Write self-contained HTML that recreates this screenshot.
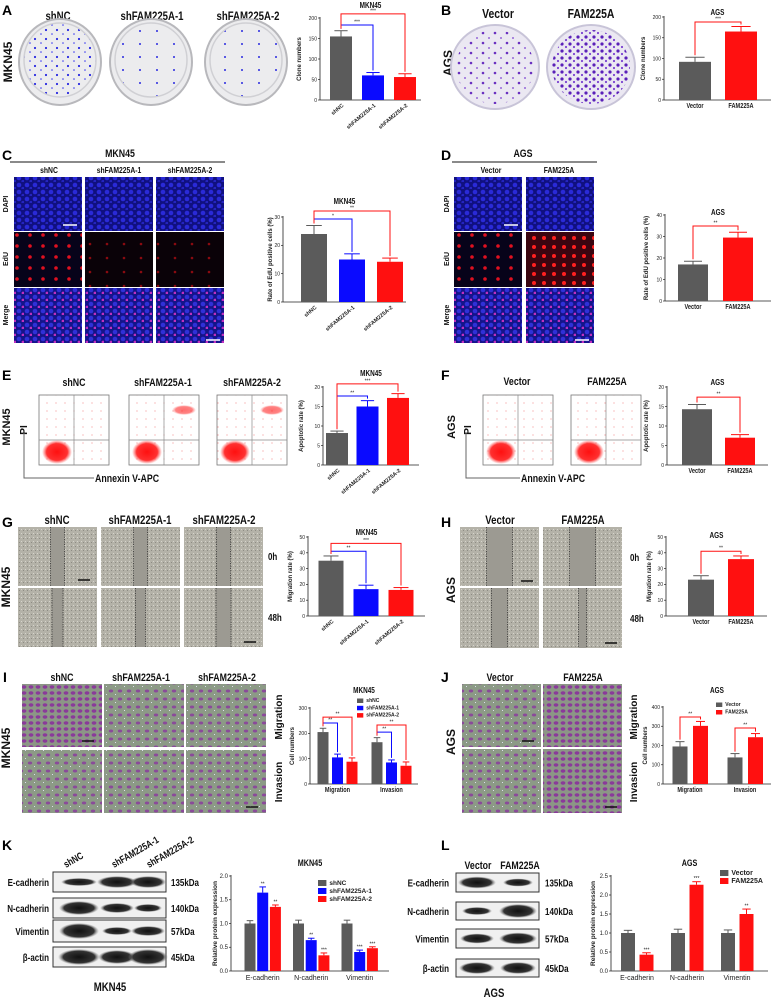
<!DOCTYPE html>
<html><head><meta charset="utf-8"><style>
html,body{margin:0;padding:0;background:#fff;}
svg{display:block;font-family:"Liberation Sans",sans-serif;}
.nar{font-family:"Liberation Sans Narrow","Liberation Sans",sans-serif;font-weight:bold;}
.lt{font-weight:bold;font-size:14px;}
</style></head><body>
<svg id="fig" width="773" height="998" viewBox="0 0 773 998" xmlns="http://www.w3.org/2000/svg">
<defs>
<pattern id="pDish" width="11" height="9" patternUnits="userSpaceOnUse"><circle cx="2" cy="3" r="1.1" fill="#2a2ae0"/><circle cx="8" cy="7" r="0.8" fill="#3a3af0"/></pattern>
<pattern id="pDishL" width="17" height="13" patternUnits="userSpaceOnUse"><circle cx="4" cy="5" r="1" fill="#2a2ae0"/></pattern>
<pattern id="pDishP" width="12" height="10" patternUnits="userSpaceOnUse"><circle cx="3" cy="3" r="1.3" fill="#6a30c0"/><circle cx="9" cy="8" r="0.9" fill="#7a40d0"/></pattern>
<pattern id="pDishP2" width="8" height="7" patternUnits="userSpaceOnUse"><circle cx="2" cy="2" r="1.6" fill="#5a20b8"/><circle cx="6" cy="5" r="1.1" fill="#7a40d0"/></pattern>
<pattern id="pDapi" width="8" height="7" patternUnits="userSpaceOnUse"><rect width="8" height="7" fill="#101080"/><circle cx="3" cy="3" r="2.3" fill="#2a2ad8"/><circle cx="7" cy="6.5" r="1.6" fill="#2525c0"/></pattern>
<pattern id="pEdu" width="13" height="11" patternUnits="userSpaceOnUse"><rect width="13" height="11" fill="#07031a"/><circle cx="4" cy="4" r="1.8" fill="#e01020"/></pattern>
<pattern id="pEduLo" width="17" height="14" patternUnits="userSpaceOnUse"><rect width="17" height="14" fill="#0a0208"/><circle cx="5" cy="6" r="1.3" fill="#8a0a10"/></pattern>
<pattern id="pEduHi" width="10" height="9" patternUnits="userSpaceOnUse"><rect width="10" height="9" fill="#3a0510"/><circle cx="4" cy="4" r="2" fill="#ff2020"/></pattern>
<pattern id="pMerge" width="8" height="7" patternUnits="userSpaceOnUse"><rect width="8" height="7" fill="#14148a"/><circle cx="3" cy="3" r="2.3" fill="#3030d8"/><circle cx="7" cy="6" r="1.4" fill="#c030c0"/></pattern>
<pattern id="pScratch" width="4" height="4" patternUnits="userSpaceOnUse"><rect width="4" height="4" fill="#b4b2a8"/><rect x="1" y="1" width="1" height="1" fill="#d6d4cc"/><rect x="3" y="2" width="1" height="1" fill="#8e8c84"/></pattern>
<pattern id="pTrans" width="9" height="8" patternUnits="userSpaceOnUse"><rect width="9" height="8" fill="#8c9a86"/><ellipse cx="3" cy="3" rx="2.2" ry="1.5" fill="#8a4a9a"/><rect x="7" y="6" width="1" height="1" fill="#dde"/></pattern>
<pattern id="pTransD" width="7" height="6" patternUnits="userSpaceOnUse"><rect width="7" height="6" fill="#8c9686"/><ellipse cx="3" cy="3" rx="2.4" ry="1.7" fill="#8a3a9a"/></pattern>
<pattern id="pFlow" width="9" height="8" patternUnits="userSpaceOnUse"><circle cx="2" cy="3" r="0.5" fill="#f06060"/></pattern>
<radialGradient id="gBlob"><stop offset="0" stop-color="#ff1010"/><stop offset="0.7" stop-color="#ff3030"/><stop offset="1" stop-color="#ff6060" stop-opacity="0"/></radialGradient>
<radialGradient id="gBand"><stop offset="0" stop-color="#111"/><stop offset="0.75" stop-color="#333"/><stop offset="1" stop-color="#888" stop-opacity="0"/></radialGradient>
</defs>

<text class="lt" x="2" y="15">A</text>
<text class="lt" x="441" y="15">B</text>
<text class="lt" x="2" y="160">C</text>
<text class="lt" x="441" y="160">D</text>
<text class="lt" x="2" y="380">E</text>
<text class="lt" x="441" y="380">F</text>
<text class="lt" x="2" y="527">G</text>
<text class="lt" x="441" y="527">H</text>
<text class="lt" x="3" y="682">I</text>
<text class="lt" x="441" y="682">J</text>
<text class="lt" x="2" y="850">K</text>
<text class="lt" x="441" y="850">L</text>

<g id="imgs"></g>
<g id="charts"></g>
</svg>
<script>
const aCats=['shNC','shFAM225A-1','shFAM225A-2'];
const aVals=[155,60,56];
const aErrs=[14,7,8];
const aTicks=[0,50,100,150,200];
const bCats=['Vector','FAM225A'];
const bVals=[92,165];
const bErrs=[11,12];
const bTicks=[0,50,100,150,200];
const cVals=[24,15,14.2];
const cErrs=[3,2,1.3];
const cTicks=[0,10,20,30];
const dVals=[17,29.5];
const dErrs=[1.5,2.5];
const dTicks=[0,10,20,30,40];
const eVals=[8.2,15,17.2];
const eErrs=[0.5,1.5,1.1];
const eTicks=[0,5,10,15,20];
const fVals=[14.3,7];
const fErrs=[1.2,0.8];
const fTicks=[0,5,10,15,20];
const gVals=[35,17,16.5];
const gErrs=[3,2.5,1.5];
const gTicks=[0,10,20,30,40,50];
const hVals=[23,36];
const hErrs=[2.5,2];
const hTicks=[0,10,20,30,40,50];
const iGroups=['Migration','Invasion'];
const iShNC=[205,165];
const iSh1=[105,85];
const iSh2=[88,72];
const iErrNC=[15,18];
const iErr1=[13,10];
const iErr2=[15,15];
const iTicks=[0,100,200,300];
const jVector=[195,138];
const jFam=[302,243];
const jErrV=[25,20];
const jErrF=[23,19];
const jTicks=[0,100,200,300,400];
const kGroups=['E-cadherin','N-cadherin','Vimentin'];
const kShNC=[1,1,1];
const kSh1=[1.65,0.65,0.4];
const kSh2=[1.35,0.33,0.48];
const kErrNC=[0.06,0.07,0.07];
const kErr1=[0.12,0.04,0.04];
const kErr2=[0.04,0.05,0.03];
const kStars1=['**','**','***'];
const kStars2=['**','***','***'];
const kTicks=['0.0','0.5','1.0','1.5','2.0'];
const lVector=[1,1,1];
const lFam=[0.43,2.27,1.5];
const lErrV=[0.07,0.1,0.08];
const lErrF=[0.05,0.08,0.13];
const lStars=['***','***','**'];
const lTicks=['0.0','0.5','1.0','1.5','2.0','2.5'];

const NS='http://www.w3.org/2000/svg';
const GRAY='#5b5b5b',BLUE='#0a0aff',RED='#ff1010';
const charts=document.getElementById('charts');
const imgs=document.getElementById('imgs');

function mk(tag,attrs,parent,name){
  const el=document.createElementNS(NS,tag);
  for(const k in attrs) el.setAttribute(k,attrs[k]);
  
  
  (parent||charts).appendChild(el);
  return el;
}
function txt(x,y,s,size,parent,name,extra){
  const t=mk('text',Object.assign({x:x,y:y,'font-size':size},extra||{}),parent,name);
  t.textContent=s;
  return t;
}

function chart(cfg,groups,series,errs,colorFn,brackets,stars){
  const g=mk('g',{},charts,cfg.name);
  const ys=v=>cfg.yb-v/cfg.max*(cfg.yb-cfg.yt);
  const xs=(gi,si)=>cfg.gs+gi*cfg.gg+si*cfg.sg;
  mk('line',{x1:cfg.ax,y1:cfg.yt-1,x2:cfg.ax,y2:cfg.yb,stroke:'#222','stroke-width':0.8},g,'y-axis');
  mk('line',{x1:cfg.ax,y1:cfg.yb,x2:cfg.ax2,y2:cfg.yb,stroke:'#222','stroke-width':0.8},g,'x-axis');
  cfg.ticks.forEach(t=>{
    const v=parseFloat(t);
    const y=ys(v);
    mk('line',{x1:cfg.ax-2,y1:y,x2:cfg.ax,y2:y,stroke:'#222','stroke-width':0.7},g,'y-tick');
    txt(cfg.ax-3,y+1.8,String(t),cfg.tf||5,g,'y-tick-label',{'text-anchor':'end',fill:'#222'});
  });
  txt((cfg.ax+cfg.ax2)/2,cfg.ty,cfg.title,cfg.tfs||8,g,'chart-title',{'text-anchor':'middle','font-weight':'bold',fill:'#111',class:'nar'});
  txt(0,0,cfg.ylab,cfg.yfs||6,g,'y-axis-title',{'text-anchor':'middle',transform:'translate('+cfg.ylx+','+((cfg.yt+cfg.yb)/2)+') rotate(-90)','font-weight':'bold',fill:'#222'});
  series.forEach((ser,si)=>{
    ser.forEach((v,gi)=>{
      const cx=xs(gi,si),col=colorFn(gi,si),e=errs[si][gi];
      mk('line',{x1:cx,y1:ys(v),x2:cx,y2:ys(v+e),stroke:col,'stroke-width':1},g,'error-bar');
      mk('line',{x1:cx-cfg.bw*0.3,y1:ys(v+e),x2:cx+cfg.bw*0.3,y2:ys(v+e),stroke:col,'stroke-width':1},g,'error-cap');
      mk('rect',{x:cx-cfg.bw/2,y:ys(v),width:cfg.bw,height:cfg.yb-ys(v),fill:col},g,'bar-'+String(gi)+'-'+String(si));
      if(stars&&stars[si]&&stars[si][gi]) txt(cx,ys(v+e)-1.5,stars[si][gi],5,g,'significance-star',{'text-anchor':'middle',fill:'#222'});
    });
  });
  (brackets||[]).forEach(b=>{
    const x1=xs(b[0],b[1]),x2=xs(b[2],b[3]),y=ys(b[4]);
    const y1=ys(series[b[1]][b[0]]+errs[b[1]][b[0]])-2,y2=ys(series[b[3]][b[2]]+errs[b[3]][b[2]])-2;
    mk('polyline',{points:x1+','+y1+' '+x1+','+y+' '+x2+','+y+' '+x2+','+y2,fill:'none',stroke:b[6],'stroke-width':1},g,'significance-bracket');
    txt((x1+x2)/2,y-1.5,b[5],5,g,'significance-label',{'text-anchor':'middle',fill:'#222'});
  });
  groups.forEach((lab,gi)=>{
    const cx=cfg.xlc!=null? xs(gi,0)+cfg.xlc : xs(gi,0);
    if(cfg.rot){
      txt(0,0,lab,cfg.xfs||5.5,g,'x-tick-label',{'text-anchor':'end',transform:'translate('+(cx+3)+','+(cfg.yb+6)+') rotate(-40)','font-weight':'bold',fill:'#222'});
    } else {
      txt(cx,cfg.yb+(cfg.xdy||8),lab,cfg.xfs||6,g,'x-tick-label',{'text-anchor':'middle',fill:'#222',class:cfg.xnar?'nar':''});
    }
  });
  if(cfg.legend){
    cfg.legend.forEach((lab,i)=>{
      const y=cfg.ly+i*cfg.lgap;
      mk('rect',{x:cfg.lx,y:y-cfg.ls+1,width:cfg.ls*1.4,height:cfg.ls,fill:cfg.lcol[i]},g,'legend-swatch');
      txt(cfg.lx+cfg.ls*1.4+3,y,lab,cfg.lfs,g,'legend-entry',{fill:'#222','font-weight':'bold'});
    });
  }
  return g;
}
const tri=gi=>[GRAY,BLUE,RED][gi];
const duo=gi=>[GRAY,RED][gi];

chart({name:'chart-a',ax:320,ax2:421,yt:18,yb:100,max:200,ticks:aTicks,gs:341,gg:32,sg:0,bw:22,title:'MKN45',ty:8,ylab:'Clone numbers',ylx:301,rot:true},
  aCats,[aVals],[aErrs],(gi)=>tri(gi),[[0,0,1,0,183,'***',BLUE],[0,0,2,0,210,'***',RED]]);
chart({name:'chart-b',ax:664,ax2:771,yt:17,yb:100,max:200,ticks:bTicks,gs:695,gg:46,sg:0,bw:32,title:'AGS',ty:15,ylab:'Clone numbers',ylx:645,xnar:true,xfs:7},
  bCats,[bVals],[bErrs],(gi)=>duo(gi),[[0,0,1,0,188,'***',RED]]);
chart({name:'chart-c',ax:283,ax2:406,yt:217,yb:302,max:30,ticks:cTicks,gs:314,gg:38,sg:0,bw:26,title:'MKN45',ty:204,ylab:'Rate of EdU positive cells (%)',ylx:272,rot:true},
  aCats,[cVals],[cErrs],(gi)=>tri(gi),[[0,0,1,0,29.3,'*',BLUE],[0,0,2,0,32.1,'**',RED]]);
chart({name:'chart-d',ax:665,ax2:771,yt:215,yb:301,max:40,ticks:dTicks,gs:693,gg:45,sg:0,bw:30,title:'AGS',ty:215,ylab:'Rate of EdU positive cells (%)',ylx:648,xnar:true,xfs:7},
  bCats,[dVals],[dErrs],(gi)=>duo(gi),[[0,0,1,0,34.9,'**',RED]]);
chart({name:'chart-e',ax:323,ax2:419,yt:387,yb:465,max:20,ticks:eTicks,gs:337,gg:30.5,sg:0,bw:22,title:'MKN45',ty:376,ylab:'Apoptotic rate (%)',ylx:303,rot:true},
  aCats,[eVals],[eErrs],(gi)=>tri(gi),[[0,0,1,0,17.7,'**',BLUE],[0,0,2,0,20.8,'***',RED]]);
chart({name:'chart-f',ax:667,ax2:768,yt:387,yb:465,max:20,ticks:fTicks,gs:697,gg:43,sg:0,bw:30,title:'AGS',ty:385,ylab:'Apoptotic rate (%)',ylx:648,xnar:true,xfs:7},
  bCats,[fVals],[fErrs],(gi)=>duo(gi),[[0,0,1,0,17.4,'**',RED]]);
chart({name:'chart-g',ax:308,ax2:425,yt:537,yb:616,max:50,ticks:gTicks,gs:331,gg:35,sg:0,bw:25,title:'MKN45',ty:535,ylab:'Migration rate (%)',ylx:292,rot:true},
  aCats,[gVals],[gErrs],(gi)=>tri(gi),[[0,0,1,0,41,'**',BLUE],[0,0,2,0,46,'***',RED]]);
chart({name:'chart-h',ax:666,ax2:767,yt:537,yb:616,max:50,ticks:hTicks,gs:701,gg:40,sg:0,bw:26,title:'AGS',ty:538,ylab:'Migration rate (%)',ylx:651,xnar:true,xfs:7},
  bCats,[hVals],[hErrs],(gi)=>duo(gi),[[0,0,1,0,41,'**',RED]]);
chart({name:'chart-i',ax:310,ax2:418,yt:708,yb:784,max:300,ticks:iTicks,gs:323,gg:54,sg:14.5,bw:11,title:'MKN45',ty:693,ylab:'Cell numbers',ylx:294,xlc:14.5,xnar:true,xfs:7,
  legend:['shNC','shFAM225A-1','shFAM225A-2'],lcol:[GRAY,BLUE,RED],lx:357,ly:702,lgap:7.3,ls:4.5,lfs:5},
  iGroups,[iShNC,iSh1,iSh2],[iErrNC,iErr1,iErr2],(gi,si)=>tri(si),
  [[0,0,0,1,241,'**',BLUE],[0,0,0,2,264,'**',RED],[1,0,1,1,205,'**',BLUE],[1,0,1,2,233,'**',RED]]);
chart({name:'chart-j',ax:663,ax2:771,yt:707,yb:784,max:400,ticks:jTicks,gs:680,gg:55,sg:20.5,bw:15,title:'AGS',ty:693,ylab:'Cell numbers',ylx:647,xlc:10,xnar:true,xfs:7,
  legend:['Vector','FAM225A'],lcol:[GRAY,RED],lx:716,ly:706,lgap:7.5,ls:4.5,lfs:5},
  iGroups,[jVector,jFam],[jErrV,jErrF],(gi,si)=>duo(si),
  [[0,0,0,1,348,'**',RED],[1,0,1,1,291,'**',RED]]);
chart({name:'chart-k',ax:231,ax2:389,yt:876,yb:971,max:2,ticks:kTicks,gs:250,gg:48.5,sg:12.7,bw:11,title:'MKN45',ty:866,ylab:'Relative protein expression',ylx:217,xlc:12.7,xfs:7,xdy:9,tf:6,tfs:9,yfs:6.5,
  legend:['shNC','shFAM225A-1','shFAM225A-2'],lcol:[GRAY,BLUE,RED],lx:318,ly:885,lgap:8,ls:6,lfs:6.5},
  kGroups,[kShNC,kSh1,kSh2],[kErrNC,kErr1,kErr2],(gi,si)=>tri(si),[],[null,kStars1,kStars2]);
chart({name:'chart-l',ax:611,ax2:768,yt:876,yb:971,max:2.5,ticks:lTicks,gs:628,gg:50,sg:18.5,bw:14,title:'AGS',ty:866,ylab:'Relative protein expression',ylx:595,xlc:9,xfs:7,xdy:9,tf:6,tfs:9,yfs:6.5,
  legend:['Vector','FAM225A'],lcol:[GRAY,RED],lx:720,ly:875,lgap:8,ls:6,lfs:7},
  kGroups,[lVector,lFam],[lErrV,lErrF],(gi,si)=>duo(si),[],[null,lStars]);

function title(x,y,s,size,name){ return txt(x,y,s,size,imgs,name,{'text-anchor':'middle',class:'nar',fill:'#111'}); }
function vlabel(x,y,s,size,name,narrow){ return txt(0,0,s,size,imgs,name,{'text-anchor':'middle',transform:'translate('+x+','+y+') rotate(-90)','font-weight':'bold',fill:'#111',class:narrow?'nar':''}); }
function box(x,y,w,h,fill,name){ return mk('rect',{x:x,y:y,width:w,height:h,fill:fill},imgs,name); }

title(58,20,'shNC',12,'col-title-shnc'); title(152,20,'shFAM225A-1',12,'col-title-sh1'); title(248,20,'shFAM225A-2',12,'col-title-sh2');
vlabel(12,62,'MKN45',12,'row-label-mkn45');
[[60,'pDish'],[151,'pDishL'],[246,'pDishL']].forEach(d=>{
  mk('ellipse',{cx:d[0],cy:62,rx:41,ry:43,fill:'#ececee',stroke:'#b8b8bc','stroke-width':2},imgs,'culture-dish');
  mk('ellipse',{cx:d[0],cy:60,rx:36,ry:37,fill:'url(#'+d[1]+')',stroke:'#d0d0d4','stroke-width':1.5},imgs,'colonies');
});
title(498,18,'Vector',13,'col-title-vector'); title(591,18,'FAM225A',13,'col-title-fam225a');
vlabel(452,63,'AGS',12,'row-label-ags');
[[495,'pDishP'],[591,'pDishP2']].forEach(d=>{
  mk('ellipse',{cx:d[0],cy:67,rx:44,ry:42,fill:'#ebe8f2',stroke:'#c8c4d8','stroke-width':2},imgs,'culture-dish');
  mk('ellipse',{cx:d[0],cy:67,rx:39,ry:37,fill:'url(#'+d[1]+')'},imgs,'colonies');
});

title(120,157,'MKN45',11,'header-mkn45');
mk('line',{x1:10,y1:162,x2:225,y2:162,stroke:'#444','stroke-width':1.2},imgs,'header-rule');
title(49,173,'shNC',8.5,'col-title'); title(119,173,'shFAM225A-1',8.5,'col-title'); title(190,173,'shFAM225A-2',8.5,'col-title');
title(523,157,'AGS',11,'header-ags');
mk('line',{x1:452,y1:162,x2:597,y2:162,stroke:'#444','stroke-width':1.2},imgs,'header-rule');
title(491,173,'Vector',8.5,'col-title'); title(559,173,'FAM225A',8.5,'col-title');
const rowsY=[177,232,288];
['DAPI','EdU','Merge'].forEach((r,i)=>{ vlabel(8,rowsY[i]+27,r,7,'row-label-'+r.toLowerCase()); vlabel(449,rowsY[i]+27,r,7,'row-label-'+r.toLowerCase()); });
[[14,'pDapi','pEdu','pMerge'],[85,'pDapi','pEduLo','pMerge'],[156,'pDapi','pEduLo','pMerge'],[454,'pDapi','pEdu','pMerge'],[526,'pDapi','pEduHi','pMerge']].forEach(c=>{
  box(c[0],177,68,54,'url(#'+c[1]+')','dapi-image');
  box(c[0],232,68,55,'url(#'+c[2]+')','edu-image');
  box(c[0],288,68,55,'url(#'+c[3]+')','merge-image');
});
mk('line',{x1:63,y1:225,x2:77,y2:225,stroke:'#fff','stroke-width':1.5},imgs,'scale-bar');
mk('line',{x1:206,y1:340,x2:220,y2:340,stroke:'#fff','stroke-width':1.5},imgs,'scale-bar');
mk('line',{x1:504,y1:225,x2:518,y2:225,stroke:'#fff','stroke-width':1.5},imgs,'scale-bar');
mk('line',{x1:575,y1:340,x2:589,y2:340,stroke:'#fff','stroke-width':1.5},imgs,'scale-bar');

title(74,386,'shNC',11,'col-title'); title(163,386,'shFAM225A-1',11,'col-title'); title(252,386,'shFAM225A-2',11,'col-title');
title(517,385,'Vector',11,'col-title'); title(607,385,'FAM225A',11,'col-title');
function flow(x,ur,name){
  box(x,395,70,70,'#fff',name);
  box(x,395,70,70,'url(#pFlow)','flow-noise');
  mk('rect',{x:x,y:395,width:70,height:70,fill:'none',stroke:'#777','stroke-width':0.8},imgs,'flow-frame');
  mk('line',{x1:x+35,y1:395,x2:x+35,y2:465,stroke:'#888','stroke-width':0.7},imgs,'quadrant-line');
  mk('line',{x1:x,y1:440,x2:x+70,y2:440,stroke:'#888','stroke-width':0.7},imgs,'quadrant-line');
  mk('ellipse',{cx:x+18,cy:452,rx:15,ry:12,fill:'url(#gBlob)'},imgs,'cell-population');
  if(ur) mk('ellipse',{cx:x+55,cy:410,rx:12,ry:5,fill:'url(#gBlob)',opacity:0.6},imgs,'apoptotic-population');
}
flow(39,false,'flow-shnc'); flow(129,true,'flow-sh1'); flow(217,true,'flow-sh2'); flow(483,false,'flow-vector'); flow(571,false,'flow-fam225a');
vlabel(10,427,'MKN45',11,'row-label-mkn45'); vlabel(27,430,'PI',10,'pi-label');
mk('polyline',{points:'24,433 24,478 94,478',fill:'none',stroke:'#666','stroke-width':1},imgs,'axis-guide');
txt(95,482,'Annexin V-APC',11,imgs,'annexin-label',{class:'nar',fill:'#111'});
vlabel(455,427,'AGS',11,'row-label-ags'); vlabel(471,430,'PI',10,'pi-label');
mk('polyline',{points:'466,433 466,478 520,478',fill:'none',stroke:'#666','stroke-width':1},imgs,'axis-guide');
txt(521,482,'Annexin V-APC',11,imgs,'annexin-label',{class:'nar',fill:'#111'});

title(57,524,'shNC',12,'col-title'); title(140,524,'shFAM225A-1',12,'col-title'); title(224,524,'shFAM225A-2',12,'col-title');
title(500,524,'Vector',12,'col-title'); title(583,524,'FAM225A',12,'col-title');
function scratch(x,w,y,h,gap,name){
  box(x,y,w,h,'url(#pScratch)',name);
  const c=x+w/2;
  box(c-gap/2,y,gap,h,'#9c9a92','wound-gap');
  mk('line',{x1:c-gap/2,y1:y,x2:c-gap/2,y2:y+h,stroke:'#222','stroke-width':0.7,'stroke-dasharray':'1.2,1.2'},imgs,'wound-edge');
  mk('line',{x1:c+gap/2,y1:y,x2:c+gap/2,y2:y+h,stroke:'#222','stroke-width':0.7,'stroke-dasharray':'1.2,1.2'},imgs,'wound-edge');
}
[18,101,184].forEach((x,i)=>{ scratch(x,79,527,59,14,'scratch-0h'); scratch(x,79,588,59,[11,10,15][i],'scratch-48h'); });
[460,543].forEach((x,i)=>{ scratch(x,79,527,59,26,'scratch-0h'); scratch(x,79,588,60,[16,8][i],'scratch-48h'); });
txt(268,560,'0h',10,imgs,'time-0h',{class:'nar',fill:'#111'}); txt(268,621,'48h',10,imgs,'time-48h',{class:'nar',fill:'#111'});
txt(630,561,'0h',10,imgs,'time-0h',{class:'nar',fill:'#111'}); txt(630,622,'48h',10,imgs,'time-48h',{class:'nar',fill:'#111'});
vlabel(10,587,'MKN45',12,'row-label-mkn45'); vlabel(455,590,'AGS',12,'row-label-ags');
mk('line',{x1:78,y1:580,x2:90,y2:580,stroke:'#111','stroke-width':1.5},imgs,'scale-bar');
mk('line',{x1:244,y1:642,x2:256,y2:642,stroke:'#111','stroke-width':1.5},imgs,'scale-bar');
mk('line',{x1:521,y1:581,x2:533,y2:581,stroke:'#111','stroke-width':1.5},imgs,'scale-bar');
mk('line',{x1:605,y1:643,x2:617,y2:643,stroke:'#111','stroke-width':1.5},imgs,'scale-bar');

title(62,681,'shNC',11,'col-title'); title(141,681,'shFAM225A-1',11,'col-title'); title(227,681,'shFAM225A-2',11,'col-title');
title(500,681,'Vector',11,'col-title'); title(583,681,'FAM225A',11,'col-title');
[[22,'pTransD'],[104,'pTrans'],[186,'pTrans']].forEach(c=>{ box(c[0],684,80,63,'url(#'+c[1]+')','transwell-migration'); box(c[0],750,80,63,'url(#pTrans)','transwell-invasion'); });
[[462,'pTrans'],[543,'pTransD']].forEach(c=>{ box(c[0],684,79,63,'url(#'+c[1]+')','transwell-migration'); box(c[0],749,79,64,'url(#'+c[1]+')','transwell-invasion'); });
vlabel(282,717,'Migration',10,'row-label-migration'); vlabel(282,782,'Invasion',10,'row-label-invasion');
vlabel(637,717,'Migration',10,'row-label-migration'); vlabel(637,782,'Invasion',10,'row-label-invasion');
vlabel(10,748,'MKN45',12,'row-label-mkn45'); vlabel(455,742,'AGS',12,'row-label-ags');
mk('line',{x1:82,y1:741,x2:94,y2:741,stroke:'#111','stroke-width':1.5},imgs,'scale-bar');
mk('line',{x1:246,y1:807,x2:258,y2:807,stroke:'#111','stroke-width':1.5},imgs,'scale-bar');
mk('line',{x1:522,y1:741,x2:534,y2:741,stroke:'#111','stroke-width':1.5},imgs,'scale-bar');
mk('line',{x1:605,y1:807,x2:617,y2:807,stroke:'#111','stroke-width':1.5},imgs,'scale-bar');

[['shNC',80],['shFAM225A-1',128],['shFAM225A-2',163]].forEach(c=>{
  txt(0,0,c[0],10,imgs,'lane-label',{transform:'translate('+(c[1]-14)+',868) rotate(-30)','font-weight':'bold',fill:'#111',class:'nar'});
});
function blot(x,w,y,h,bands,label,kda,lx,kx){
  box(x,y,w,h,'#f0f0f0',label+'-blot');
  mk('rect',{x:x,y:y,width:w,height:h,fill:'none',stroke:'#333','stroke-width':1},imgs,'blot-frame');
  bands.forEach(b=>mk('ellipse',{cx:b[0],cy:y+h/2,rx:b[1],ry:b[2],fill:'url(#gBand)'},imgs,'protein-band'));
  txt(lx,y+h/2+4,label,10,imgs,'protein-label',{'text-anchor':'end','font-weight':'bold',fill:'#111',class:'nar'});
  txt(kx,y+h/2+4,kda,10,imgs,'kda-label',{'font-weight':'bold',fill:'#111',class:'nar'});
}
blot(53,113,872,20,[[79,18,4],[117,20,6],[148,18,6]],'E-cadherin','135kDa',49,171);
blot(53,113,898,20,[[79,20,7],[117,17,5],[148,14,4]],'N-cadherin','140kDa',49,171);
blot(53,113,920,22,[[79,20,8],[117,15,4],[148,17,5]],'Vimentin','57kDa',49,171);
blot(53,113,947,20,[[79,21,8],[117,19,7],[148,20,8]],'β-actin','45kDa',49,171);
txt(110,991,'MKN45',12,imgs,'blot-title-mkn45',{'text-anchor':'middle','font-weight':'bold',fill:'#111',class:'nar'});
txt(478,869,'Vector',11,imgs,'lane-label',{'text-anchor':'middle','font-weight':'bold',fill:'#111',class:'nar'});
txt(520,869,'FAM225A',11,imgs,'lane-label',{'text-anchor':'middle','font-weight':'bold',fill:'#111',class:'nar'});
blot(456,83,873,19,[[477,19,6],[518,15,4]],'E-cadherin','135kDa',449,545);
blot(456,83,902,18,[[477,15,4],[518,19,7]],'N-cadherin','140kDa',449,545);
blot(456,83,929,19,[[477,17,5],[518,19,6]],'Vimentin','57kDa',449,545);
blot(456,83,959,18,[[477,18,6],[518,18,6]],'β-actin','45kDa',449,545);
txt(494,997,'AGS',12,imgs,'blot-title-ags',{'text-anchor':'middle','font-weight':'bold',fill:'#111',class:'nar'});

// condense "narrow" text (narrow font may be unavailable)
document.querySelectorAll('text.nar').forEach(t=>{
  const w=t.getComputedTextLength();
  if(w>0){ t.setAttribute('textLength', (w*0.8).toFixed(1)); t.setAttribute('lengthAdjust','spacingAndGlyphs'); }
});
</script>
</body></html>
